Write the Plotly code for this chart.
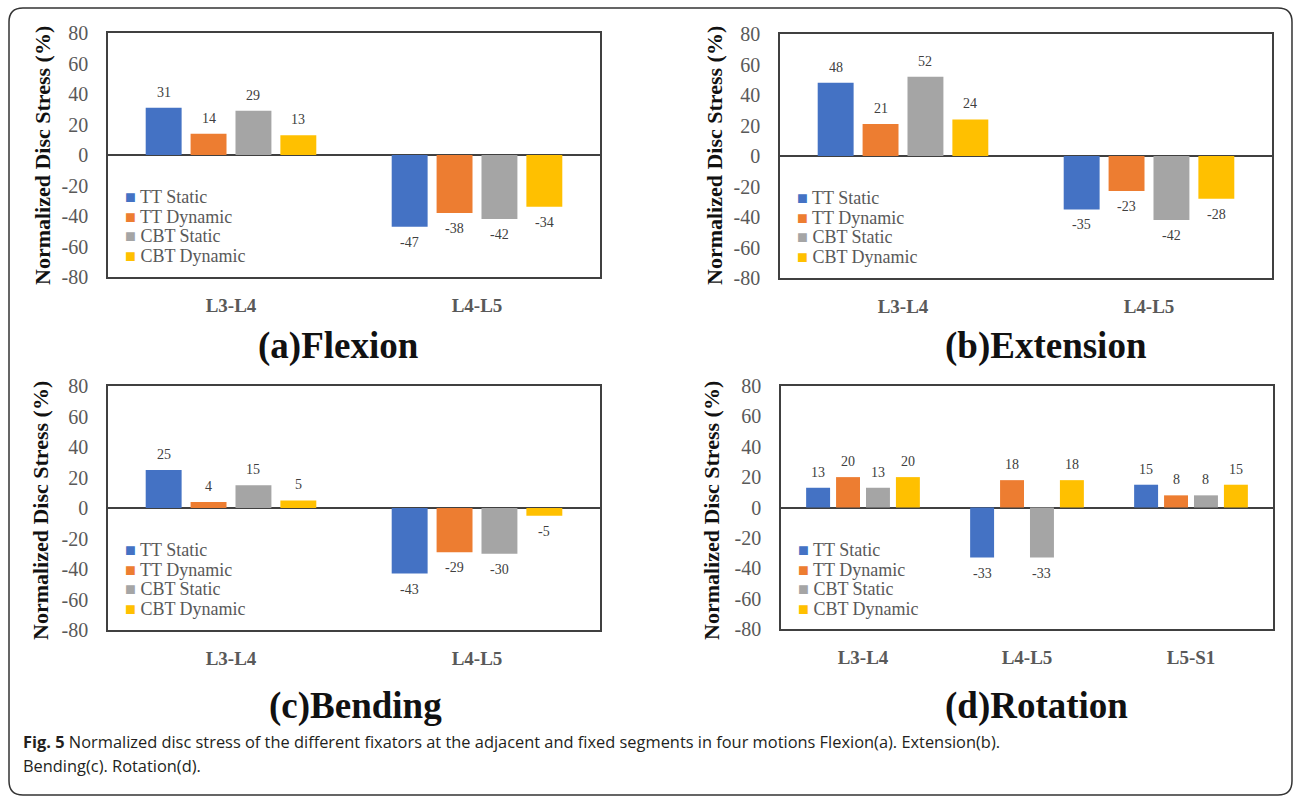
import plotly.graph_objects as go

W, H = 1295, 797

# ---------------- data ----------------
series = ["TT Static", "TT Dynamic", "CBT Static", "CBT Dynamic"]
colors = ["#4472C4", "#ED7D31", "#A5A5A5", "#FFC000"]

cats_two = ["L3-L4", "L4-L5"]
cats_three = ["L3-L4", "L4-L5", "L5-S1"]

flex_tt_static = [31, -47]
flex_tt_dynamic = [14, -38]
flex_cbt_static = [29, -42]
flex_cbt_dynamic = [13, -34]

ext_tt_static = [48, -35]
ext_tt_dynamic = [21, -23]
ext_cbt_static = [52, -42]
ext_cbt_dynamic = [24, -28]

bend_tt_static = [25, -43]
bend_tt_dynamic = [4, -29]
bend_cbt_static = [15, -30]
bend_cbt_dynamic = [5, -5]

rot_tt_static = [13, -33, 15]
rot_tt_dynamic = [20, 18, 8]
rot_cbt_static = [13, -33, 8]
rot_cbt_dynamic = [20, 18, 15]

y_ticks = [-80, -60, -40, -20, 0, 20, 40, 60, 80]
panel_titles = ["(a)Flexion", "(b)Extension", "(c)Bending", "(d)Rotation"]
y_title = "Normalized Disc Stress (%)"
caption_line1 = "<b>Fig. 5</b> Normalized disc stress of the different fixators at the adjacent and fixed segments in four motions Flexion(a). Extension(b)."
caption_line2 = "Bending(c). Rotation(d)."

# ---------------- layout constants ----------------
SERIF = "Liberation Serif"
BARGAP = 0.27
BARGROUPGAP = 0.2

def px(x):
    return x / W

def py(y):
    return 1 - y / H

panels = [
    dict(cats=cats_two, vals=[flex_tt_static, flex_tt_dynamic, flex_cbt_static, flex_cbt_dynamic],
         box=(108, 33, 600, 277), title_xy=(338, 346), ytitle_xy=(42, 156)),
    dict(cats=cats_two, vals=[ext_tt_static, ext_tt_dynamic, ext_cbt_static, ext_cbt_dynamic],
         box=(780, 34, 1272, 278), title_xy=(1046, 346), ytitle_xy=(714, 156)),
    dict(cats=cats_two, vals=[bend_tt_static, bend_tt_dynamic, bend_cbt_static, bend_cbt_dynamic],
         box=(108, 386, 600, 630), title_xy=(355, 706), ytitle_xy=(40, 511)),
    dict(cats=cats_three, vals=[rot_tt_static, rot_tt_dynamic, rot_cbt_static, rot_cbt_dynamic],
         box=(781, 386, 1273, 629), title_xy=(1036, 706), ytitle_xy=(711, 511)),
]

fig = go.Figure()
annotations = []
layout_axes = {}

for i, p in enumerate(panels):
    n = i + 1
    xa = "x" if n == 1 else f"x{n}"
    ya = "y" if n == 1 else f"y{n}"
    xkey = "xaxis" if n == 1 else f"xaxis{n}"
    ykey = "yaxis" if n == 1 else f"yaxis{n}"
    x0, y0, x1, y1 = p["box"]

    for k, (name, col, vals) in enumerate(zip(series, colors, p["vals"])):
        fig.add_trace(go.Bar(
            x=p["cats"], y=vals, name=name, marker=dict(color=col, line=dict(width=0)),
            xaxis=xa, yaxis=ya, showlegend=False, hoverinfo="x+y+name",
        ))
        slot = (1 - BARGAP) / len(series)
        for ci, v in enumerate(vals):
            annotations.append(dict(
                x=ci + (k - (len(series) - 1) / 2) * slot, y=v, xref=xa, yref=ya,
                text=str(v), showarrow=False,
                yanchor="bottom" if v >= 0 else "top",
                yshift=6 if v >= 0 else -6,
                font=dict(family=SERIF, size=14, color="#404040"),
            ))

    layout_axes[xkey] = dict(
        domain=[px(x0), px(x1)], anchor=ya, type="category",
        showline=True, mirror=True, linecolor="#404040", linewidth=1.5,
        showgrid=False, zeroline=False, ticks="",
        tickfont=dict(family=SERIF, size=19, color="#595959", weight="bold"),
        ticklabelstandoff=10, fixedrange=True, automargin=False,
    )
    layout_axes[ykey] = dict(
        domain=[py(y1), py(y0)], anchor=xa, range=[-80, 80],
        tickvals=y_ticks, ticktext=[str(t) for t in y_ticks],
        showline=True, mirror=True, linecolor="#404040", linewidth=1.5,
        showgrid=False, zeroline=True, zerolinecolor="#404040", zerolinewidth=1.5,
        ticks="", tickfont=dict(family=SERIF, size=20, color="#595959"),
        ticklabelstandoff=14, fixedrange=True, automargin=False,
    )

    # legend (drawn as text rows inside the plot area)
    for k, (name, col) in enumerate(zip(series, colors)):
        annotations.append(dict(
            x=px(x0 + 15), y=py(y0 + 164 + k * 19.5), xref="paper", yref="paper",
            xanchor="left", yanchor="middle", showarrow=False,
            text=f"<span style='color:{col}'>■</span> {name}",
            font=dict(family=SERIF, size=18, color="#595959"),
        ))

    tx, ty = p["title_xy"]
    annotations.append(dict(
        x=px(tx), y=py(ty), xref="paper", yref="paper", xanchor="center", yanchor="middle",
        showarrow=False, text=f"<b>{panel_titles[i]}</b>",
        font=dict(family=SERIF, size=37, color="#111111"),
    ))
    ax_, ay_ = p["ytitle_xy"]
    annotations.append(dict(
        x=px(ax_), y=py(ay_), xref="paper", yref="paper", xanchor="center", yanchor="middle",
        showarrow=False, textangle=-90, text=f"<b>{y_title}</b>",
        font=dict(family=SERIF, size=22, color="#111111"),
    ))

annotations.append(dict(
    x=px(21), y=py(741), xref="paper", yref="paper", xanchor="left", yanchor="middle",
    showarrow=False, text=caption_line1, font=dict(family="Open Sans", size=16.4, color="#231F20"),
))
annotations.append(dict(
    x=px(21), y=py(765), xref="paper", yref="paper", xanchor="left", yanchor="middle",
    showarrow=False, text=caption_line2, font=dict(family="Open Sans", size=16.4, color="#231F20"),
))

# outer rounded frame
fx0, fy0, fx1, fy1, r = 9, 8, 1292, 795, 14
pts = [
    ("M", fx0 + r, fy0), ("L", fx1 - r, fy0), ("Q", fx1, fy0, fx1, fy0 + r),
    ("L", fx1, fy1 - r), ("Q", fx1, fy1, fx1 - r, fy1), ("L", fx0 + r, fy1),
    ("Q", fx0, fy1, fx0, fy1 - r), ("L", fx0, fy0 + r), ("Q", fx0, fy0, fx0 + r, fy0),
]
path = ""
for seg in pts:
    cmd = seg[0]
    coords = seg[1:]
    parts = []
    for j in range(0, len(coords), 2):
        parts.append(f"{px(coords[j]):.5f},{py(coords[j+1]):.5f}")
    path += cmd + " ".join(parts) + " "
path += "Z"

fig.update_layout(
    width=W, height=H, margin=dict(l=0, r=0, t=0, b=0, pad=0, autoexpand=False),
    paper_bgcolor="white", plot_bgcolor="white",
    barmode="group", bargap=BARGAP, bargroupgap=BARGROUPGAP,
    showlegend=False, annotations=annotations,
    shapes=[dict(type="path", path=path, xref="paper", yref="paper",
                 line=dict(color="#333333", width=1.5), layer="below")],
    **layout_axes,
)

fig.write_html("out.html", config={"displayModeBar": False},
               post_script="document.body.style.margin='0';document.body.style.overflow='hidden';")
